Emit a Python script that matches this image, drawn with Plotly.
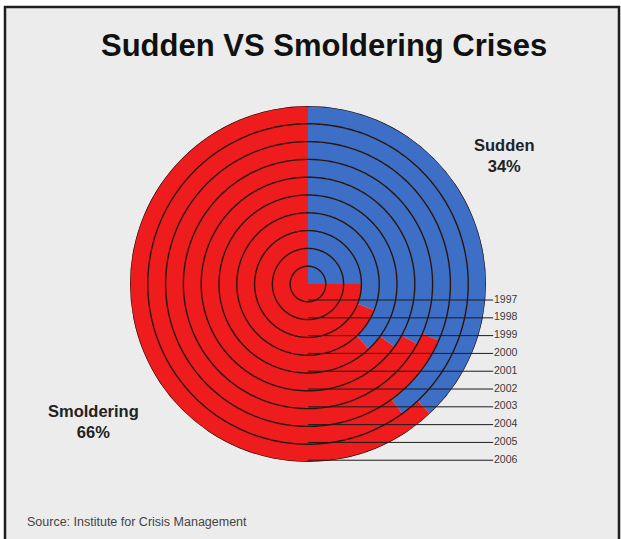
import numpy as np
import plotly.graph_objects as go

# Share of sudden crises per year (%); the rest are smoldering crises
years = ["1997", "1998", "1999", "2000", "2001", "2002", "2003", "2004", "2005", "2006"]
sudden_pct = [25, 25, 25, 31, 38, 35, 33, 31.5, 40, 38]
smoldering_pct = [100 - v for v in sudden_pct]

# Overall split printed beside the rings
overall_sudden = 34
overall_smoldering = 66

title_text = "Sudden VS Smoldering Crises"
source_text = "Source: Institute for Crisis Management"

BLUE = "#3d6fc6"
RED = "#ee1c1c"
RING_LINE = "#2b140c"
FONT = "Liberation Sans, Arial, sans-serif"

W, H = 621, 539
CX, CY, R_PX = 308, 284, 178          # ring centre and outer radius (px)
n = len(years)
unit = R_PX / n                        # px per ring

fig = go.Figure()

# one annular sector per year and category, inner year at the centre
ring_base = list(range(n))
sud_width = [v * 3.6 for v in sudden_pct]
smo_width = [v * 3.6 for v in smoldering_pct]

fig.add_trace(go.Barpolar(
    r=[1] * n, base=ring_base,
    theta=[w / 2 for w in sud_width], width=sud_width,
    marker=dict(color=BLUE, line=dict(width=0)),
    name="Sudden", showlegend=False, customdata=years,
    hovertemplate="%{customdata}: Sudden<extra></extra>",
))
fig.add_trace(go.Barpolar(
    r=[1] * n, base=ring_base,
    theta=[s + w / 2 for s, w in zip(sud_width, smo_width)], width=smo_width,
    marker=dict(color=RED, line=dict(width=0)),
    name="Smoldering", showlegend=False, customdata=years,
    hovertemplate="%{customdata}: Smoldering<extra></extra>",
))

# ring outlines
circ_theta = np.linspace(0, 360, 361)
rr, tt = [], []
for k in range(1, n + 1):
    rr += [k] * len(circ_theta) + [None]
    tt += list(circ_theta) + [None]
fig.add_trace(go.Scatterpolar(
    r=rr, theta=tt, mode="lines",
    line=dict(color=RING_LINE, width=1.4),
    hoverinfo="skip", showlegend=False,
))

# year labels on a cartesian overlay measured in ring units
label_y = [-(k + 1) + 0.1 for k in range(n)]
fig.add_trace(go.Scatter(
    x=[n + 0.45] * n, y=label_y, text=years, mode="text",
    textposition="middle right",
    textfont=dict(family=FONT, size=10.5, color="#3a3a3a"),
    hoverinfo="skip", showlegend=False, cliponaxis=False,
))

shapes = [
    dict(type="rect", xref="paper", yref="paper",
         x0=5 / W, x1=619 / W, y0=-0.05, y1=1 - 7 / H,
         fillcolor="#ececed", line=dict(color="#1e1e1e", width=2.5), layer="below"),
]
# leader lines from the bottom of each ring out to its year
for y in label_y:
    shapes.append(dict(type="line", xref="x", yref="y", x0=0, x1=n + 0.4, y0=y, y1=y,
                       line=dict(color="#1c1c1c", width=1), layer="above"))


def note(text, x_px, y_px, size, color="#222", xanchor="center", align="center"):
    return dict(text=text, x=x_px / W, y=1 - y_px / H, xref="paper", yref="paper",
                xanchor=xanchor, yanchor="middle", showarrow=False, align=align,
                font=dict(family=FONT, size=size, color=color))


annotations = [
    note(f"<b>{title_text}</b>", 324, 45, 31, color="#111"),
    note(f"<b>Sudden<br>{overall_sudden}%</b>", 504, 156, 16.5),
    note(f"<b>Smoldering<br>{overall_smoldering}%</b>", 93, 421, 16.5),
    note(source_text, 25, 522, 12.5, color="#444", xanchor="left", align="left"),
]

ydom = [1 - (CY + R_PX) / H, 1 - (CY - R_PX) / H]
x_right_px = 600
fig.update_layout(
    width=W, height=H, margin=dict(l=0, r=0, t=0, b=0),
    paper_bgcolor="white", plot_bgcolor="rgba(0,0,0,0)",
    polar=dict(
        domain=dict(x=[(CX - R_PX) / W, (CX + R_PX) / W], y=ydom),
        bgcolor="rgba(0,0,0,0)", bargap=0, hole=0,
        radialaxis=dict(range=[0, n], visible=False),
        angularaxis=dict(rotation=90, direction="clockwise", visible=False),
    ),
    xaxis=dict(domain=[(CX - R_PX) / W, x_right_px / W],
               range=[-n, (x_right_px - CX) / unit], visible=False, fixedrange=True),
    yaxis=dict(domain=ydom, range=[-n, n], visible=False, fixedrange=True),
    shapes=shapes, annotations=annotations, showlegend=False,
)

fig.write_html("out.html")
